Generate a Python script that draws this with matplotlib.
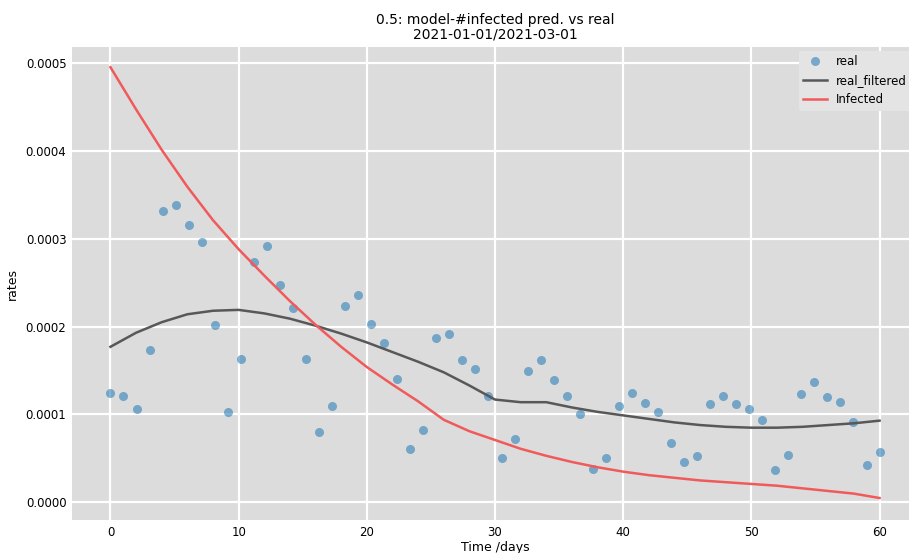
#!/usr/bin/python3

import numpy as np
import matplotlib
matplotlib.use('Agg')
import matplotlib.pyplot as plt

# observed rates, one per sample over the 60 day window
real = [1.24, 1.21, 1.06, 1.73, 3.31, 3.38, 3.15, 2.96, 2.02, 1.03,
        1.63, 2.73, 2.92, 2.47, 2.21, 1.63, 0.80, 1.10, 2.23, 2.36,
        2.03, 1.81, 1.40, 0.61, 0.82, 1.87, 1.91, 1.62, 1.52, 1.21,
        0.51, 0.72, 1.49, 1.62, 1.39, 1.21, 1.01, 0.38, 0.50, 1.10,
        1.24, 1.13, 1.03, 0.68, 0.46, 0.53, 1.12, 1.21, 1.12, 1.06,
        0.94, 0.37, 0.54, 1.23, 1.37, 1.20, 1.14, 0.92, 0.42, 0.57]

# smoothed series and model prediction, every 2 days
days2 = list(range(0, 61, 2))
real_filtered = [1.77, 1.93, 2.05, 2.14, 2.18, 2.19, 2.15, 2.09, 2.01, 1.92,
                 1.82, 1.71, 1.60, 1.48, 1.33, 1.17, 1.14, 1.14, 1.08, 1.03,
                 0.99, 0.95, 0.91, 0.88, 0.86, 0.85, 0.85, 0.86, 0.88, 0.90,
                 0.93]
infected = [4.95, 4.47, 4.01, 3.59, 3.21, 2.88, 2.58, 2.29, 2.02, 1.77,
            1.54, 1.34, 1.15, 0.94, 0.81, 0.71, 0.61, 0.53, 0.46, 0.40,
            0.35, 0.31, 0.28, 0.25, 0.23, 0.21, 0.19, 0.16, 0.13, 0.10,
            0.05]

scale = 1e-4
t_real = np.linspace(0, 60, len(real))

fig = plt.figure(figsize=(9.09, 5.53), dpi=100)
ax = fig.add_axes([72 / 909, 33 / 553, 846 / 909, 473 / 553])
ax.set_facecolor('#dcdcdc')
for s in ax.spines.values():
    s.set_visible(False)
ax.grid(True, color='white', linewidth=1.6)
ax.set_axisbelow(True)
ax.tick_params(length=0, labelsize=8.5, pad=4)

ax.plot(t_real, np.array(real) * scale, 'o', color='tab:blue', alpha=0.55,
        markersize=6.5, markeredgewidth=0, label='real')
ax.plot(days2, np.array(real_filtered) * scale, color='#585858', lw=1.8,
        label='real_filtered')
ax.plot(days2, np.array(infected) * scale, color='#f05a5a', lw=1.8,
        label='Infected')

ax.set_xlim(-3, 63)
ax.set_ylim(-0.00002, 0.000518)
ax.set_xticks([0, 10, 20, 30, 40, 50, 60])
ax.set_yticks([0, 0.0001, 0.0002, 0.0003, 0.0004, 0.0005])
ax.set_yticklabels(['0.0000', '0.0001', '0.0002', '0.0003', '0.0004', '0.0005'])
ax.set_xlabel('Time /days', fontsize=9, labelpad=2)
ax.set_ylabel('rates', fontsize=9, labelpad=5)
ax.set_title('0.5: model-#infected pred. vs real\n2021-01-01/2021-03-01',
             fontsize=10, pad=6, linespacing=1.1)

leg = ax.legend(loc='upper right', bbox_to_anchor=(0.997, 1.0),
                fontsize=8.5, facecolor='#e4e4e4', edgecolor='none',
                framealpha=1, borderaxespad=0.3)

fig.savefig('out.png', dpi=100)
